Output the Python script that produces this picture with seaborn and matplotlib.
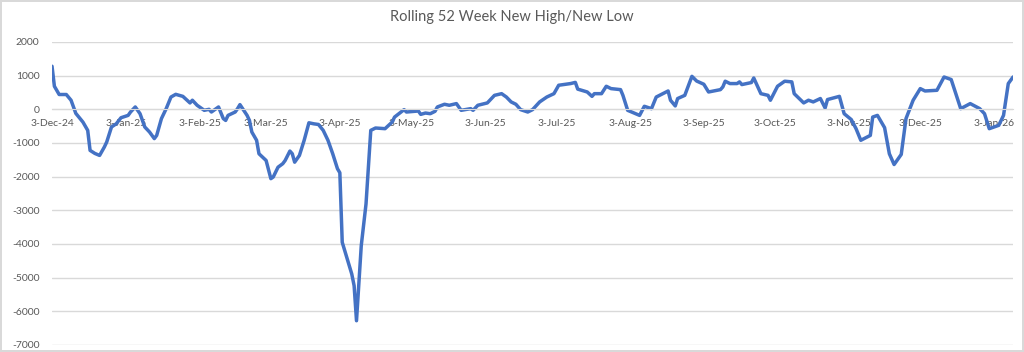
import pandas as pd
import matplotlib
matplotlib.use("Agg")
import matplotlib.pyplot as plt
import seaborn as sns

# values
dates = [
    "2024-12-03", "2024-12-04", "2024-12-06", "2024-12-09", "2024-12-11", "2024-12-13",
    "2024-12-16", "2024-12-18", "2024-12-19", "2024-12-21", "2024-12-23", "2024-12-25",
    "2024-12-26", "2024-12-28", "2024-12-30", "2025-01-01", "2025-01-04", "2025-01-05",
    "2025-01-07", "2025-01-09", "2025-01-11", "2025-01-13", "2025-01-15", "2025-01-16",
    "2025-01-18", "2025-01-20", "2025-01-22", "2025-01-24", "2025-01-27", "2025-01-30",
    "2025-01-31", "2025-02-02", "2025-02-05", "2025-02-07", "2025-02-08", "2025-02-11",
    "2025-02-13", "2025-02-14", "2025-02-15", "2025-02-18", "2025-02-19", "2025-02-20",
    "2025-02-23", "2025-02-24", "2025-02-25", "2025-02-27", "2025-02-28", "2025-03-03",
    "2025-03-05", "2025-03-06", "2025-03-08", "2025-03-10", "2025-03-11", "2025-03-13",
    "2025-03-14", "2025-03-15", "2025-03-17", "2025-03-19", "2025-03-21", "2025-03-23",
    "2025-03-25", "2025-03-27", "2025-03-29", "2025-03-31", "2025-04-02", "2025-04-03",
    "2025-04-04", "2025-04-08", "2025-04-09", "2025-04-10", "2025-04-12", "2025-04-14",
    "2025-04-16", "2025-04-18", "2025-04-22", "2025-04-25", "2025-04-26", "2025-04-30",
    "2025-05-01", "2025-05-06", "2025-05-07", "2025-05-09", "2025-05-11", "2025-05-13",
    "2025-05-14", "2025-05-17", "2025-05-19", "2025-05-22", "2025-05-24", "2025-05-28",
    "2025-05-29", "2025-05-31", "2025-06-04", "2025-06-07", "2025-06-10", "2025-06-12",
    "2025-06-14", "2025-06-16", "2025-06-18", "2025-06-21", "2025-06-23", "2025-06-26",
    "2025-06-29", "2025-07-02", "2025-07-04", "2025-07-09", "2025-07-11", "2025-07-12",
    "2025-07-16", "2025-07-18", "2025-07-19", "2025-07-22", "2025-07-24", "2025-07-26",
    "2025-07-30", "2025-07-31", "2025-08-02", "2025-08-07", "2025-08-09", "2025-08-12",
    "2025-08-14", "2025-08-19", "2025-08-20", "2025-08-22", "2025-08-23", "2025-08-26",
    "2025-08-29", "2025-08-31", "2025-09-03", "2025-09-05", "2025-09-10", "2025-09-11",
    "2025-09-12", "2025-09-14", "2025-09-17", "2025-09-18", "2025-09-19", "2025-09-23",
    "2025-09-24", "2025-09-27", "2025-09-30", "2025-10-01", "2025-10-04", "2025-10-07",
    "2025-10-10", "2025-10-11", "2025-10-15", "2025-10-17", "2025-10-19", "2025-10-22",
    "2025-10-24", "2025-10-25", "2025-10-30", "2025-11-01", "2025-11-04", "2025-11-06",
    "2025-11-08", "2025-11-12", "2025-11-13", "2025-11-15", "2025-11-18", "2025-11-20",
    "2025-11-22", "2025-11-25", "2025-11-27", "2025-11-30", "2025-12-03", "2025-12-05",
    "2025-12-10", "2025-12-13", "2025-12-16", "2025-12-20", "2025-12-24", "2025-12-28",
    "2025-12-30", "2026-01-01", "2026-01-05", "2026-01-07", "2026-01-09", "2026-01-11",
]
net_highs_lows = [
    1280, 685, 440, 440, 270, -120,
    -380, -625, -1220, -1310, -1370, -1120,
    -970, -525, -430, -250, -180, -80,
    70, -130, -525, -675, -870, -775,
    -275, 20, 365, 445, 385, 190,
    270, 120, -30, 0, -80, 70,
    -275, -330, -180, -80, 20, 140,
    -180, -330, -675, -920, -1320, -1520,
    -2060, -2010, -1720, -1615, -1520, -1240,
    -1320, -1570, -1370, -920, -400, -430,
    -450, -625, -920, -1320, -1765, -1885,
    -3950, -4890, -5240, -6280, -4050, -2810,
    -625, -555, -575, -378, -230, -10,
    -80, -50, -150, -110, -130, -60,
    70, 150, 120, 170, -30, 20,
    -30, 120, 190, 415, 465, 365,
    220, 150, -10, -80, -10, 220,
    365, 465, 715, 765, 800, 600,
    515, 385, 465, 465, 685, 615,
    585, 415, -30, -180, 90, 20,
    365, 545, 270, 100, 320, 415,
    980, 840, 745, 515, 585, 665,
    835, 765, 765, 815, 735, 795,
    930, 465, 415, 270, 685, 835,
    815, 465, 190, 270, 220, 320,
    40, 290, 385, -130, -305, -575,
    -920, -775, -230, -180, -545, -1320,
    -1640, -1340, -275, 270, 615, 545,
    565, 960, 885, 20, 170, 20,
    -130, -575, -475, -180, 765, 960,
]
tick_dates = [
    "2024-12-03", "2025-01-03", "2025-02-03", "2025-03-03", "2025-04-03", "2025-05-03",
    "2025-06-03", "2025-07-03", "2025-08-03", "2025-09-03", "2025-10-03", "2025-11-03",
    "2025-12-03", "2026-01-03",
]
y_ticks = [2000, 1000, 0, -1000, -2000, -3000, -4000, -5000, -6000, -7000]

LINE = "#4472C4"
GRID = "#D9D9D9"
TEXT = "#595959"

sns.set_style("white")
plt.rcParams["font.family"] = ["Lato", "DejaVu Sans"]
plt.rcParams["axes.unicode_minus"] = False

df = pd.DataFrame({"date": pd.to_datetime(dates), "value": net_highs_lows})

fig = plt.figure(figsize=(10.24, 3.52), dpi=100)
fig.patch.set_edgecolor("#D9D9D9")
fig.patch.set_linewidth(1.5)
ax = fig.add_axes([0.0508, 0.02, 0.9385, 0.8607])

sns.lineplot(data=df, x="date", y="value", color=LINE, linewidth=2.5, ax=ax)

ax.set_xlim(df["date"].min(), df["date"].max())
ax.set_ylim(-7000, 2000)
ax.set_yticks(y_ticks)
ax.set_yticklabels([str(v) for v in y_ticks])
ticks = pd.to_datetime(tick_dates)
ax.set_xticks(ticks)
ax.set_xticklabels([f"{d.day}-{d.strftime('%b-%y')}" for d in ticks])

ax.grid(axis="y", color=GRID, linewidth=1)
ax.grid(axis="x", visible=False)
for side in ["top", "right", "left"]:
    ax.spines[side].set_visible(False)
ax.spines["bottom"].set_position(("data", 0))
ax.spines["bottom"].set_color(GRID)
ax.tick_params(axis="both", length=0, labelsize=7.5, colors=TEXT)
ax.tick_params(axis="x", pad=7)
ax.tick_params(axis="y", pad=9)
ax.set_xlabel("")
ax.set_ylabel("")

fig.text(0.5, 0.952, "Rolling 52 Week New High/New Low", ha="center", va="center",
         fontsize=10.5, color=TEXT)

fig.savefig("out.png", dpi=100)
